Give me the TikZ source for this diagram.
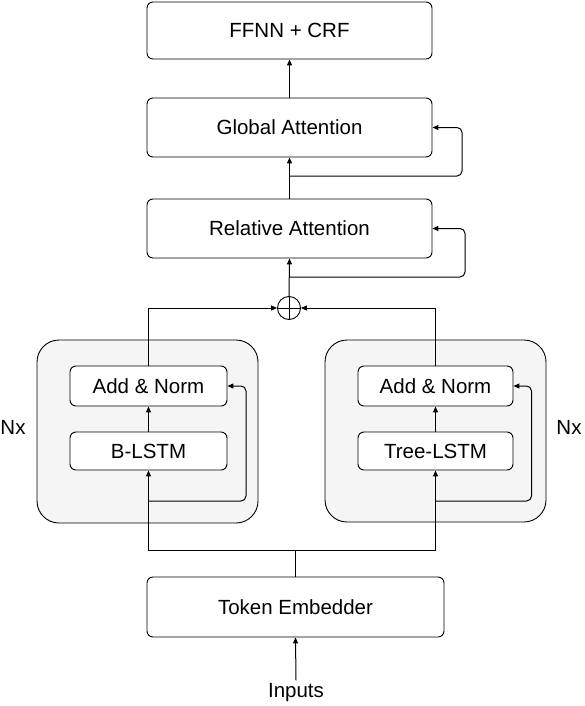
\documentclass[tikz,border=0pt]{standalone}
\usepackage{fontspec}
\setmainfont{Liberation Sans}
\usetikzlibrary{arrows.meta,calc}
\begin{document}
\begin{tikzpicture}[x=1pt,y=-1pt,
  every node/.style={font=\fontsize{20.5}{24}\selectfont},
  blk/.style={draw=black,line width=0.9pt,rounded corners=6pt,fill=white,inner sep=0pt},
  grp/.style={draw=black,line width=0.9pt,rounded corners=22pt,fill=gray!8,inner sep=0pt},
  conn/.style={line width=1pt,draw=black},
  arr/.style={conn,-{Triangle[length=6pt,width=5pt]}},
  fb/.style={arr,rounded corners=5pt}]
\useasboundingbox (0,0) rectangle (584,706);
% groups
\node[grp,minimum width=221pt,minimum height=183pt] (lgrp) at (147.5,431.5) {};
\node[grp,minimum width=221pt,minimum height=182pt] (rgrp) at (435.5,431) {};
% blocks
\node[blk,minimum width=285pt,minimum height=57pt] (ffnn) at (289.5,30.5) {FFNN + CRF};
\node[blk,minimum width=285pt,minimum height=59pt] (glob) at (289.5,127.5) {Global Attention};
\node[blk,minimum width=285pt,minimum height=59pt] (rel) at (289.5,228.5) {Relative Attention};
\node[draw=black,line width=0.9pt,circle,minimum size=23pt,inner sep=0pt] (plus) at (289,308) {};
\draw[line width=0.9pt] (plus.north) -- (plus.south) (plus.west) -- (plus.east);
\node[blk,minimum width=157pt,minimum height=40pt] (laddn) at (148.5,386) {Add \& Norm};
\node[blk,minimum width=157pt,minimum height=38pt] (lstm) at (148.5,451) {B-LSTM};
\node[blk,minimum width=155pt,minimum height=40pt] (raddn) at (435.5,386) {Add \& Norm};
\node[blk,minimum width=155pt,minimum height=38pt] (tree) at (435.5,451) {Tree-LSTM};
\node[blk,minimum width=297pt,minimum height=60pt] (tok) at (295.5,607) {Token Embedder};
\node (inputs) at (296,693) {Inputs};
\node (nxl) at (13,427) {Nx};
\node (nxr) at (569,427) {Nx};
% coordinates
\coordinate (split) at (295.5,550);
\coordinate (lfb) at (148,501);
\coordinate (rfb) at (435.5,501);
\coordinate (gfb) at (289.5,176);
\coordinate (rlfb) at (289.5,277);
% connectors
\draw[arr] (inputs.north) -- (tok.south);
\draw[conn] (tok.north) -- (split);
\draw[arr] (split) -| (lstm.south);
\draw[arr] (split) -| (tree.south);
\draw[arr] (lstm.north) -- (laddn.south);
\draw[arr] (tree.north) -- (raddn.south);
\draw[fb] (lfb) -- ++(98,0) |- (laddn.east);
\draw[fb] (rfb) -- ++(96,0) |- (raddn.east);
\draw[arr] (laddn.north) |- (plus.west);
\draw[arr] (raddn.north) |- (plus.east);
\draw[arr] (plus.north) -- (rel.south);
\draw[fb] (rlfb) -- ++(175.5,0) |- (rel.east);
\draw[arr] (rel.north) -- (glob.south);
\draw[fb] (gfb) -- ++(172.5,0) |- (glob.east);
\draw[arr] (glob.north) -- (ffnn.south);
\end{tikzpicture}
\end{document}
